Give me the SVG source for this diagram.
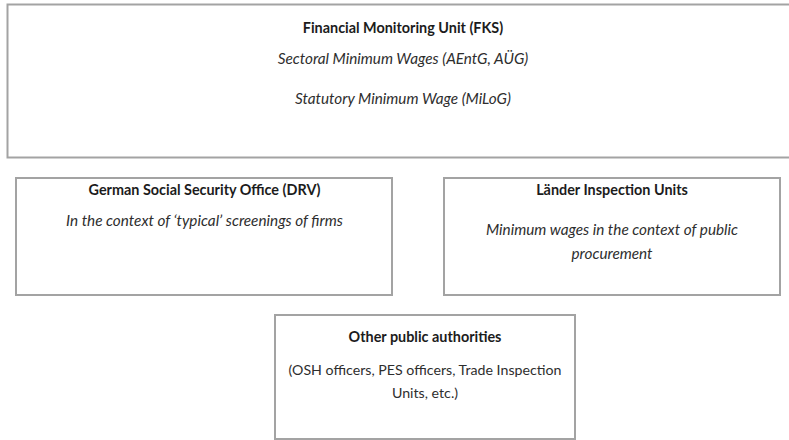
<svg xmlns="http://www.w3.org/2000/svg" width="789" height="440" viewBox="0 0 789 440">
  <style>
    .box { fill: #ffffff; stroke: #a3a3a3; stroke-width: 2; }
    .title { font-family: Lato, "Open Sans", "Liberation Sans", sans-serif; font-size: 14.4px; font-weight: bold; fill: #1c1c1c; text-anchor: middle; }
    .note { font-family: Lato, "Open Sans", "Liberation Sans", sans-serif; font-size: 15.3px; font-style: italic; fill: #2e2e2e; text-anchor: middle; }
    .plain { font-family: Lato, "Open Sans", "Liberation Sans", sans-serif; font-size: 14.2px; fill: #2e2e2e; text-anchor: middle; }
  </style>
  <rect width="789" height="440" fill="#ffffff"/>

  <g id="fks">
    <rect class="box" x="7.5" y="4.5" width="800" height="153"/>
    <text class="title" x="403" y="33">Financial Monitoring Unit (FKS)</text>
    <text class="note" x="403" y="64">Sectoral Minimum Wages (AEntG, AÜG)</text>
    <text class="note" x="403" y="104">Statutory Minimum Wage (MiLoG)</text>
  </g>

  <g id="drv">
    <rect class="box" x="16" y="178" width="376" height="117"/>
    <text class="title" x="204.5" y="195">German Social Security Office (DRV)</text>
    <text class="note" x="204.5" y="226">In the context of ‘typical’ screenings of firms</text>
  </g>

  <g id="laender">
    <rect class="box" x="444" y="178" width="336" height="117"/>
    <text class="title" x="612" y="195">Länder Inspection Units</text>
    <text class="note" x="612" y="235">Minimum wages in the context of public</text>
    <text class="note" x="612" y="259">procurement</text>
  </g>

  <g id="other">
    <rect class="box" x="275" y="315" width="300" height="124"/>
    <text class="title" x="425" y="342">Other public authorities</text>
    <text class="plain" x="425" y="375">(OSH officers, PES officers, Trade Inspection</text>
    <text class="plain" x="425" y="398">Units, etc.)</text>
  </g>

  <g id="connectors"></g>
</svg>
